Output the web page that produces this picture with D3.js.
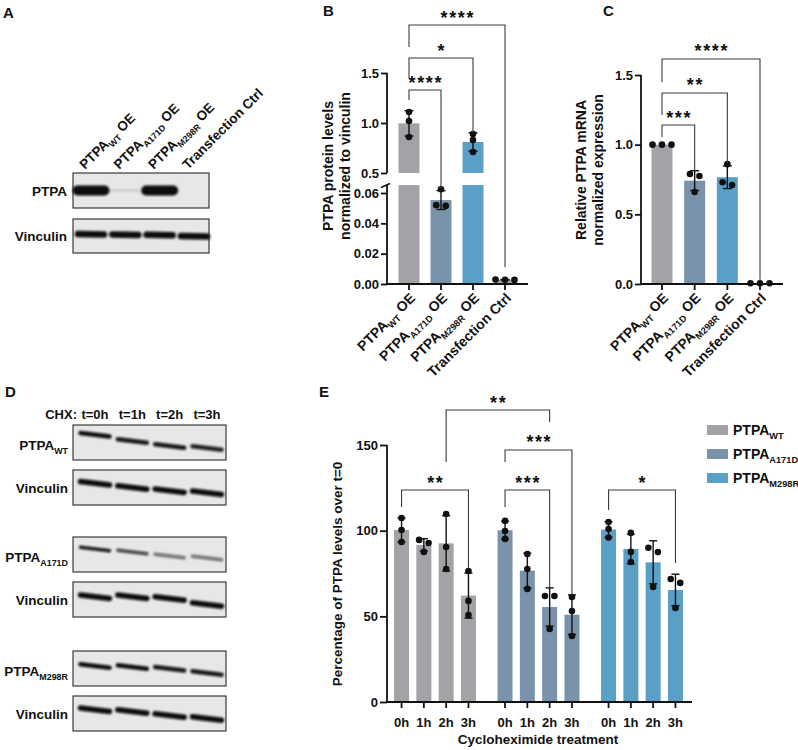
<!DOCTYPE html>
<html><head><meta charset="utf-8">
<script src="https://cdn.jsdelivr.net/npm/d3@7/dist/d3.min.js"></script>
<style>
body{margin:0;background:#fff}
svg{display:block}
text{font-family:Arial,"Liberation Sans",sans-serif;font-weight:bold;fill:#111}
</style>
</head><body>
<svg id="fig" width="798" height="750"></svg>
<script>
// ================= DATA =================
const groups = ["WT", "A171D", "M298R", "Ctrl"];
const groupMain = ["PTPA", "PTPA", "PTPA", "Transfection Ctrl"];
const groupSub = ["WT", "A171D", "M298R", ""];
const groupSuffix = [" OE", " OE", " OE", ""];
const barColors = ["#a3a3a7", "#7b93aa", "#5a9fc6", "#a3a3a7"];

// Panel B: PTPA protein levels normalized to vinculin (3 replicates each)
const proteinWT = [1.11, 1.02, 0.86];
const proteinA171D = [0.0625, 0.0520, 0.0515];
const proteinM298R = [0.89, 0.83, 0.71];
const proteinCtrl = [0.0029, 0.0028, 0.0027];
const ticksBUpper = [0.5, 1.0, 1.5];
const ticksBLower = [0, 0.02, 0.04, 0.06];

// Panel C: relative PTPA mRNA
const mrnaWT = [1.0, 1.0, 1.0];
const mrnaA171D = [0.79, 0.775, 0.66];
const mrnaM298R = [0.86, 0.73, 0.71];
const mrnaCtrl = [0.005, 0.005, 0.005];
const ticksC = [0, 0.5, 1.0, 1.5];

// Panel E: % PTPA over t=0 after cycloheximide
const timepoints = ["0h", "1h", "2h", "3h"];
const chxWT = [[107.4, 100.4, 93.4], [94.6, 92.8, 87.6], [109.7, 90.5, 77.6], [76.5, 59.0, 50.8]];
const chxA171D = [[105.7, 99.8, 95.2], [86.4, 77.6, 66.0], [61.9, 61.9, 42.6], [61.3, 53.1, 38.5]];
const chxM298R = [[105.0, 101.0, 96.0], [98.7, 87.6, 81.7], [90.0, 87.5, 67.1], [71.8, 69.5, 54.9]];
const ticksE = [0, 50, 100, 150];
const legendSub = ["WT", "A171D", "M298R"];

// significance brackets (values in data units: bracket level, left leg end, right leg end)
const bracketsB = [
  {from: 0, to: 3, label: "****", level: 1.98, leftEnd: 1.76, rightEnd: 0.011},
  {from: 0, to: 2, label: "*", level: 1.65, leftEnd: 1.45, rightEnd: 0.90},
  {from: 0, to: 1, label: "****", level: 1.33, leftEnd: 1.23, rightEnd: 0.0634}
];
const bracketsC = [
  {from: 0, to: 3, label: "****", level: 1.615, leftEnd: 1.45, rightEnd: 0.03},
  {from: 0, to: 2, label: "**", level: 1.371, leftEnd: 1.213, rightEnd: 0.869},
  {from: 0, to: 1, label: "***", level: 1.141, leftEnd: 1.055, rightEnd: 0.818}
];
const bracketsE = [
  {from: [0, 0], to: [0, 3], label: "**", level: 123.7, leftEnd: 113.8, rightEnd: 77.6},
  {from: [1, 0], to: [1, 2], label: "***", level: 123.7, leftEnd: 113.8, rightEnd: 67.1},
  {from: [1, 0], to: [1, 3], label: "***", level: 147.1, leftEnd: 140.1, rightEnd: 62.5},
  {from: [0, 2], to: [1, 2], label: "**", level: 170.4, leftEnd: 140.1, rightEnd: 163.4},
  {from: [2, 0], to: [2, 3], label: "*", level: 123.7, leftEnd: 112.1, rightEnd: 81.1}
];

// Western blots: band intensities per lane, band level within the strip (fraction), thickness
const blotAPTPA = [1, 0.13, 1, 0];
const blotAVinc = [1, 1, 1, 1];
const blotALevelPTPA = [0.5, 0.5, 0.5, 0.5];
const blotALevelVinc = [0.45, 0.46, 0.47, 0.51];
const chxLanes = ["t=0h", "t=1h", "t=2h", "t=3h"];
const blotDRows = [
  {main: "PTPA", sub: "WT", intensity: [1, 0.95, 0.95, 0.9], level: [0.28, 0.46, 0.60, 0.66], thick: 4.5},
  {main: "Vinculin", sub: "", intensity: [1, 1, 1, 1], level: [0.38, 0.50, 0.59, 0.65], thick: 5.5},
  {main: "PTPA", sub: "A171D", intensity: [0.95, 0.75, 0.55, 0.55], level: [0.34, 0.43, 0.54, 0.60], thick: 3.5},
  {main: "Vinculin", sub: "", intensity: [1, 1, 1, 1], level: [0.42, 0.42, 0.47, 0.64], thick: 5.5},
  {main: "PTPA", sub: "M298R", intensity: [1, 1, 0.95, 0.95], level: [0.43, 0.46, 0.51, 0.63], thick: 4.5},
  {main: "Vinculin", sub: "", intensity: [1, 1, 1, 1], level: [0.39, 0.44, 0.56, 0.64], thick: 5.5}
];

// ================= HELPERS =================
const svg = d3.select("#fig");
const defs = svg.append("defs");
defs.append("filter").attr("id", "blur").attr("filterUnits", "userSpaceOnUse")
  .attr("x", 0).attr("y", 0).attr("width", 798).attr("height", 750)
  .append("feGaussianBlur").attr("stdDeviation", 0.9);

function stat(arr) { return {m: d3.mean(arr), s: arr.length > 1 ? d3.deviation(arr) : 0}; }

function richText(sel, main, sub, suffix, fs) {
  sel.append("tspan").attr("font-size", fs).text(main);
  const d = fs * 0.28;
  if (sub) sel.append("tspan").attr("font-size", fs * 0.66).attr("dy", d).text(sub);
  if (suffix) sel.append("tspan").attr("font-size", fs).attr("dy", sub ? -d : 0).text(suffix);
}

function panelLabel(t, x, y) { svg.append("text").attr("x", x).attr("y", y).attr("font-size", 15).text(t); }

// spread overlapping points horizontally (simple scatter-dot layout)
function spread(values, yf, thresh = 5, spacing = 9.5) {
  const idx = values.map((v, i) => i).sort((a, b) => yf(values[a]) - yf(values[b]));
  const off = new Array(values.length).fill(0);
  let cluster = [idx[0]];
  const flush = () => { cluster.forEach((k, j) => off[k] = (j - (cluster.length - 1) / 2) * spacing); };
  for (let j = 1; j < idx.length; j++) {
    if (Math.abs(yf(values[idx[j]]) - yf(values[cluster[cluster.length - 1]])) < thresh) cluster.push(idx[j]);
    else { flush(); cluster = [idx[j]]; }
  }
  flush();
  return off;
}

function drawPoints(g, values, cx, yf) {
  const off = spread(values, yf);
  g.selectAll(null).data(values).join("circle")
    .attr("cx", (d, i) => cx + off[i]).attr("cy", d => yf(d)).attr("r", 3.3).attr("fill", "#111");
}

function drawErr(g, st, cx, yf, cap) {
  if (!(st.s > 0)) return;
  const y1 = yf(st.m + st.s), y2 = yf(Math.max(st.m - st.s, 0));
  g.append("line").attr("x1", cx).attr("x2", cx).attr("y1", y1).attr("y2", y2);
  g.append("line").attr("x1", cx - cap / 2).attr("x2", cx + cap / 2).attr("y1", y1).attr("y2", y1);
  g.append("line").attr("x1", cx - cap / 2).attr("x2", cx + cap / 2).attr("y1", y2).attr("y2", y2);
}

function drawBracket(x1, x2, yf, b) {
  const g = svg.append("g");
  g.append("path")
    .attr("d", `M${x1},${yf(b.leftEnd)}V${yf(b.level)}H${x2}V${yf(b.rightEnd)}`)
    .attr("fill", "none").attr("stroke", "#3a3a3a").attr("stroke-width", 1.1);
  g.append("text").attr("x", (x1 + x2) / 2 + 0.8).attr("y", yf(b.level) - 1.5)
    .attr("text-anchor", "middle").attr("font-size", 18).attr("font-weight", "normal")
    .attr("letter-spacing", 1.6).text(b.label);
}

function styleAxis(g) {
  g.select(".domain").remove();
  g.selectAll(".tick line").attr("stroke", "#111").attr("stroke-width", 1.8);
  g.selectAll(".tick text").attr("font-size", 13).attr("font-weight", "bold")
    .attr("font-family", "Arial, 'Liberation Sans', sans-serif").attr("fill", "#111");
}

function xTickLabels(xs, axisY) {
  groups.forEach((k, i) => {
    const cx = xs(k);
    svg.append("line").attr("x1", cx).attr("x2", cx).attr("y1", axisY).attr("y2", axisY + 6)
      .attr("stroke", "#111").attr("stroke-width", 1.8);
    const t = svg.append("text").attr("text-anchor", "end")
      .attr("transform", `translate(${cx + 7},${axisY + 15}) rotate(-45)`);
    richText(t, groupMain[i], groupSub[i], groupSuffix[i], 14);
  });
}

function yTitle(lines, cx, cy, fs) {
  const t = svg.append("text").attr("text-anchor", "middle")
    .attr("transform", `translate(${cx},${cy}) rotate(-90)`).attr("font-size", fs);
  lines.forEach((l, i) => t.append("tspan").attr("x", 0).attr("dy", i === 0 ? 0 : fs * 1.2).text(l));
}

function blot(x0, x1, y0, h, lanes, intensity, level, thick, bandW, tilt) {
  const g = svg.append("g");
  g.append("rect").attr("x", x0).attr("y", y0).attr("width", x1 - x0).attr("height", h)
    .attr("fill", "#e7e7e7").attr("stroke", "#3a3a3a").attr("stroke-width", 1.2);
  const bands = g.append("g").attr("filter", "url(#blur)");
  lanes.domain().forEach((k, i) => {
    if (intensity[i] <= 0) return;
    const cx = lanes(k), cy = y0 + level[i] * h;
    bands.append("line")
      .attr("x1", cx - bandW / 2).attr("x2", cx + bandW / 2)
      .attr("y1", cy - tilt / 2).attr("y2", cy + tilt / 2)
      .attr("stroke", "#0c0c0c").attr("stroke-opacity", intensity[i])
      .attr("stroke-width", typeof thick === "number" ? thick : thick[i]).attr("stroke-linecap", "round");
  });
}

// ================= PANEL A =================
panelLabel("A", 3, 18);
{
  const lanesA = d3.scalePoint().domain(groups).range([91, 194]);
  groups.forEach((k, i) => {
    const t = svg.append("text").attr("text-anchor", "start")
      .attr("transform", `translate(${lanesA(k) - 6},${170}) rotate(-45)`);
    richText(t, groupMain[i], groupSub[i], groupSuffix[i], 13.5);
  });
  blot(73, 209, 173, 35, lanesA, blotAPTPA, blotALevelPTPA, [10, 2.5, 10, 0], 27, 0);
  blot(73, 209, 219, 34, lanesA, blotAVinc, blotALevelVinc, 6.5, 26, 0.5);
  svg.append("text").attr("x", 67).attr("y", 196).attr("text-anchor", "end").attr("font-size", 13.5).text("PTPA");
  svg.append("text").attr("x", 67).attr("y", 241).attr("text-anchor", "end").attr("font-size", 13.5).text("Vinculin");
}

// ================= PANEL B =================
panelLabel("B", 323, 16);
{
  const axX = 387, axY = 284, axRight = 528, lowTopY = 185;
  const yUp = d3.scaleLinear().domain([0.5, 1.5]).range([173, 73]);
  const yLow = d3.scaleLinear().domain([0, 0.06]).range([axY, 193]);
  const lowTop = yLow.invert(lowTopY);
  const yB = v => v >= 0.5 ? yUp(v) : yLow(Math.min(v, lowTop));
  const x = d3.scalePoint().domain(groups).range([409, 505]);
  const series = [proteinWT, proteinA171D, proteinM298R, proteinCtrl];
  const bw = 21;
  const gBars = svg.append("g");
  series.forEach((vals, i) => {
    const st = stat(vals), cx = x(groups[i]);
    if (st.m > 0.5) {
      gBars.append("rect").attr("x", cx - bw / 2).attr("width", bw).attr("y", yLow(lowTop)).attr("height", axY - yLow(lowTop)).attr("fill", barColors[i]);
      gBars.append("rect").attr("x", cx - bw / 2).attr("width", bw).attr("y", yUp(st.m)).attr("height", yUp(0.5) - yUp(st.m)).attr("fill", barColors[i]);
    } else {
      gBars.append("rect").attr("x", cx - bw / 2).attr("width", bw).attr("y", yLow(st.m)).attr("height", axY - yLow(st.m)).attr("fill", barColors[i]);
    }
  });
  const gErr = svg.append("g").attr("stroke", "#111").attr("stroke-width", 1.4);
  series.forEach((vals, i) => drawErr(gErr, stat(vals), x(groups[i]), yB, 9));
  const gPts = svg.append("g");
  series.forEach((vals, i) => drawPoints(gPts, vals, x(groups[i]), yB));
  // axes
  const a1 = svg.append("g").attr("transform", `translate(${axX},0)`)
    .call(d3.axisLeft(yUp).tickValues(ticksBUpper).tickFormat(d3.format(".1f")).tickSize(6).tickPadding(2));
  styleAxis(a1);
  const a2 = svg.append("g").attr("transform", `translate(${axX},0)`)
    .call(d3.axisLeft(yLow).tickValues(ticksBLower).tickFormat(d3.format(".2f")).tickSize(6).tickPadding(2));
  styleAxis(a2);
  svg.append("line").attr("x1", axX).attr("x2", axX).attr("y1", yUp(1.5)).attr("y2", yUp(0.5)).attr("stroke", "#111").attr("stroke-width", 1.8);
  svg.append("line").attr("x1", axX).attr("x2", axX).attr("y1", lowTopY).attr("y2", axY).attr("stroke", "#111").attr("stroke-width", 1.8);
  svg.append("line").attr("x1", axX - 6).attr("x2", axX + 3).attr("y1", lowTopY + 2.5).attr("y2", lowTopY - 1.5).attr("stroke", "#111").attr("stroke-width", 1.6);
  svg.append("line").attr("x1", axX - 0.9).attr("x2", axRight).attr("y1", axY).attr("y2", axY).attr("stroke", "#111").attr("stroke-width", 1.8);
  xTickLabels(x, axY);
  yTitle(["PTPA protein levels", "normalized to vinculin"], 333, 166, 14);
  bracketsB.forEach(b => drawBracket(x(groups[b.from]), x(groups[b.to]), yB, b));
}

// ================= PANEL C =================
panelLabel("C", 603, 16);
{
  const axX = 641, axY = 284, axRight = 783;
  const y = d3.scaleLinear().domain([0, 1.5]).range([axY, 75]);
  const x = d3.scalePoint().domain(groups).range([662, 760]);
  const series = [mrnaWT, mrnaA171D, mrnaM298R, mrnaCtrl];
  const bw = 21;
  series.forEach((vals, i) => {
    const st = stat(vals), cx = x(groups[i]);
    svg.append("rect").attr("x", cx - bw / 2).attr("width", bw).attr("y", y(st.m)).attr("height", axY - y(st.m)).attr("fill", barColors[i]);
  });
  const gErr = svg.append("g").attr("stroke", "#111").attr("stroke-width", 1.4);
  series.forEach((vals, i) => drawErr(gErr, stat(vals), x(groups[i]), y, 9));
  const gPts = svg.append("g");
  series.forEach((vals, i) => drawPoints(gPts, vals, x(groups[i]), y));
  const a = svg.append("g").attr("transform", `translate(${axX},0)`)
    .call(d3.axisLeft(y).tickValues(ticksC).tickFormat(d3.format(".1f")).tickSize(6).tickPadding(2));
  styleAxis(a);
  svg.append("line").attr("x1", axX).attr("x2", axX).attr("y1", y(1.5)).attr("y2", axY).attr("stroke", "#111").attr("stroke-width", 1.8);
  svg.append("line").attr("x1", axX - 0.9).attr("x2", axRight).attr("y1", axY).attr("y2", axY).attr("stroke", "#111").attr("stroke-width", 1.8);
  xTickLabels(x, axY);
  yTitle(["Relative PTPA mRNA", "normalized expression"], 586, 170, 14);
  bracketsC.forEach(b => drawBracket(x(groups[b.from]), x(groups[b.to]), y, b));
}

// ================= PANEL D =================
panelLabel("D", 5, 397);
{
  const lanes = d3.scalePoint().domain(chxLanes).range([95, 207]);
  svg.append("text").attr("x", 77).attr("y", 419).attr("text-anchor", "end").attr("font-size", 13).text("CHX:");
  chxLanes.forEach(l => svg.append("text").attr("x", lanes(l)).attr("y", 419).attr("text-anchor", "middle").attr("font-size", 13).text(l));
  const rowTop = [425, 470, 537, 582, 651, 696];
  blotDRows.forEach((r, i) => {
    blot(73, 226, rowTop[i], 35, lanes, r.intensity, r.level, r.thick, 29, 3.5);
    const t = svg.append("text").attr("text-anchor", "end")
      .attr("transform", `translate(68,${rowTop[i] + 17.5 + (r.sub ? 7.5 : 5)})`);
    richText(t, r.main, r.sub, "", 13.5);
  });
}

// ================= PANEL E =================
panelLabel("E", 319, 397);
{
  const axX = 387, axY = 702, axRight = 692;
  const y = d3.scaleLinear().domain([0, 150]).range([axY, 445]);
  const gx = d3.scalePoint().domain([0, 1, 2]).range([435, 642]);
  const innerStep = 22.3;
  const xE = (g, t) => gx(g) + (t - 1.5) * innerStep;
  const series = [chxWT, chxA171D, chxM298R];
  const bw = 15;
  series.forEach((grp, gi) => grp.forEach((vals, ti) => {
    const st = stat(vals), cx = xE(gi, ti);
    svg.append("rect").attr("x", cx - bw / 2).attr("width", bw).attr("y", y(st.m)).attr("height", axY - y(st.m)).attr("fill", barColors[gi]);
  }));
  const gErr = svg.append("g").attr("stroke", "#111").attr("stroke-width", 1.4);
  series.forEach((grp, gi) => grp.forEach((vals, ti) => drawErr(gErr, stat(vals), xE(gi, ti), y, 8)));
  const gPts = svg.append("g");
  series.forEach((grp, gi) => grp.forEach((vals, ti) => drawPoints(gPts, vals, xE(gi, ti), y)));
  const a = svg.append("g").attr("transform", `translate(${axX},0)`)
    .call(d3.axisLeft(y).tickValues(ticksE).tickSize(7).tickPadding(2));
  styleAxis(a);
  svg.append("line").attr("x1", axX).attr("x2", axX).attr("y1", y(150)).attr("y2", axY).attr("stroke", "#111").attr("stroke-width", 1.8);
  svg.append("line").attr("x1", axX - 0.9).attr("x2", axRight).attr("y1", axY).attr("y2", axY).attr("stroke", "#111").attr("stroke-width", 1.8);
  series.forEach((grp, gi) => timepoints.forEach((tp, ti) => {
    const cx = xE(gi, ti);
    svg.append("line").attr("x1", cx).attr("x2", cx).attr("y1", axY).attr("y2", axY + 6).attr("stroke", "#111").attr("stroke-width", 1.8);
    svg.append("text").attr("x", cx).attr("y", 727).attr("text-anchor", "middle").attr("font-size", 13).text(tp);
  }));
  svg.append("text").attr("x", 538).attr("y", 744).attr("text-anchor", "middle").attr("font-size", 13.5).text("Cycloheximide treatment");
  yTitle(["Percentage of PTPA levels over t=0"], 342, 574, 13.5);
  bracketsE.forEach(b => drawBracket(xE(b.from[0], b.from[1]), xE(b.to[0], b.to[1]), y, b));
  // legend
  legendSub.forEach((s, i) => {
    const ly = 425 + i * 24;
    svg.append("rect").attr("x", 707).attr("y", ly).attr("width", 21).attr("height", 10).attr("fill", barColors[i]);
    const t = svg.append("text").attr("x", 733).attr("y", ly + 10);
    richText(t, "PTPA", s, "", 14);
  });
}
</script>
</body></html>
